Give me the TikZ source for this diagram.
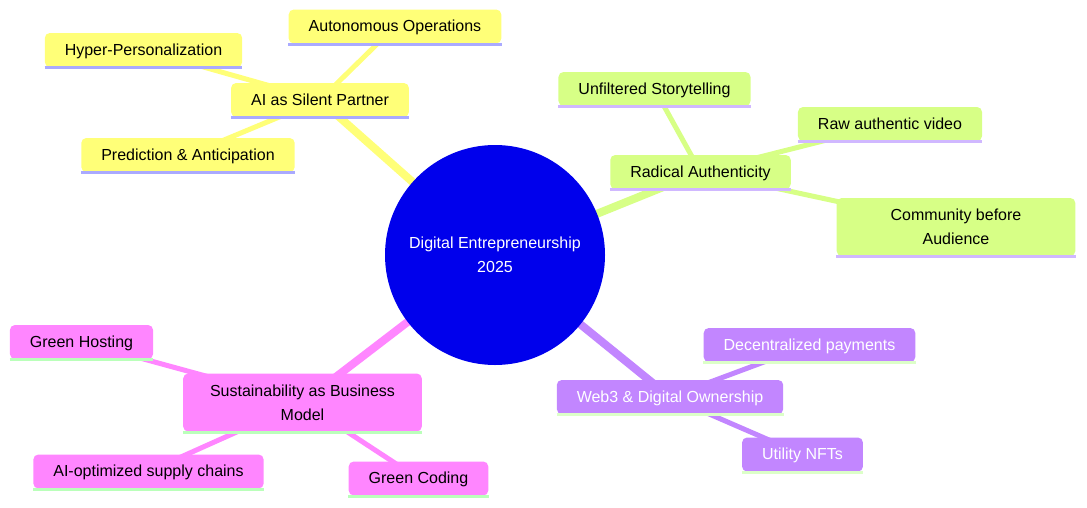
\documentclass[tikz,border=0pt]{standalone}
\usepackage{fontspec}
\setmainfont{Liberation Sans}
\usetikzlibrary{backgrounds}

\definecolor{rootblue}{HTML}{0000EC}
\definecolor{secyellow}{HTML}{FFFF78}
\definecolor{seclime}{HTML}{D7FF86}
\definecolor{secpurple}{HTML}{C286FF}
\definecolor{secpink}{HTML}{FF86FF}
\definecolor{lineyellow}{HTML}{AAAAFF}
\definecolor{linelime}{HTML}{D0B8FF}
\definecolor{linepurple}{HTML}{DCFFC8}
\definecolor{linepink}{HTML}{BAFFBA}

\begin{document}
\begin{tikzpicture}[x=0.75pt,y=-0.75pt,
    every node/.style={font=\fontsize{12}{18}\selectfont},
    box/.style={rounded corners=3.75pt, inner xsep=15pt, inner ysep=4pt, minimum height=25.5pt, text height=10pt, text depth=2pt, align=center},
    tall/.style={minimum height=43.5pt, minimum width=179pt, text height=, text depth=},
    yel/.style={box, fill=secyellow},
    lime/.style={box, fill=seclime},
    purp/.style={box, fill=secpurple, text=white},
    pink/.style={box, fill=secpink},
    trunk/.style={line width=6pt},
    twig/.style={line width=3.75pt}]
    \useasboundingbox (0,0) rectangle (1087,507);

    % centre
    \node[circle, fill=rootblue, text=white, minimum size=165pt, inner sep=0pt, align=center] (root) at (495,255) {Digital Entrepreneurship\\2025};

    % AI branch
    \node[yel] (ai) at (320,100) {AI as Silent Partner};
    \node[yel] (auto) at (395,26.5) {Autonomous Operations};
    \node[yel] (hyper) at (143.5,50) {Hyper-Personalization};
    \node[yel] (pred) at (188,155) {Prediction \& Anticipation};

    % authenticity branch
    \node[lime] (radical) at (700.5,172) {Radical Authenticity};
    \node[lime] (story) at (654.5,89) {Unfiltered Storytelling};
    \node[lime] (video) at (890,124) {Raw authentic video};
    \node[lime, tall] (community) at (956,227) {Community before\\Audience};

    % web3 branch
    \node[purp] (web3) at (670,397) {Web3 \& Digital Ownership};
    \node[purp] (payments) at (809.5,345) {Decentralized payments};
    \node[purp] (nfts) at (802.5,454.5) {Utility NFTs};

    % sustainability branch
    \node[pink, tall] (sustain) at (302.5,402.5) {Sustainability as Business\\Model};
    \node[pink] (hosting) at (81.5,342) {Green Hosting};
    \node[pink] (supply) at (148.5,471.5) {AI-optimized supply chains};
    \node[pink] (coding) at (418.5,478.5) {Green Coding};

    \begin{scope}[on background layer]
        \draw[trunk, secyellow] (root.center) -- (ai.center);
        \draw[trunk, seclime] (root.center) -- (radical.center);
        \draw[trunk, secpurple] (root.center) -- (web3.center);
        \draw[trunk, secpink] (root.center) -- (sustain.center);

        \draw[twig, secyellow] (ai.center) -- (auto.center);
        \draw[twig, secyellow] (ai.center) -- (hyper.center);
        \draw[twig, secyellow] (ai.center) -- (pred.center);
        \draw[twig, seclime] (radical.center) -- (story.center);
        \draw[twig, seclime] (radical.center) -- (video.center);
        \draw[twig, seclime] (radical.center) -- (community.center);
        \draw[twig, secpurple] (web3.center) -- (payments.center);
        \draw[twig, secpurple] (web3.center) -- (nfts.center);
        \draw[twig, secpink] (sustain.center) -- (hosting.center);
        \draw[twig, secpink] (sustain.center) -- (supply.center);
        \draw[twig, secpink] (sustain.center) -- (coding.center);
    \end{scope}

    % underlines
    \foreach \n/\c in {ai/lineyellow, auto/lineyellow, hyper/lineyellow, pred/lineyellow,
        radical/linelime, story/linelime, video/linelime, community/linelime,
        web3/linepurple, payments/linepurple, nfts/linepurple,
        sustain/linepink, hosting/linepink, supply/linepink, coding/linepink}
        \draw[\c, line width=2.25pt] ([yshift=-0.4pt]\n.south west) -- ([yshift=-0.4pt]\n.south east);
\end{tikzpicture}
\end{document}
